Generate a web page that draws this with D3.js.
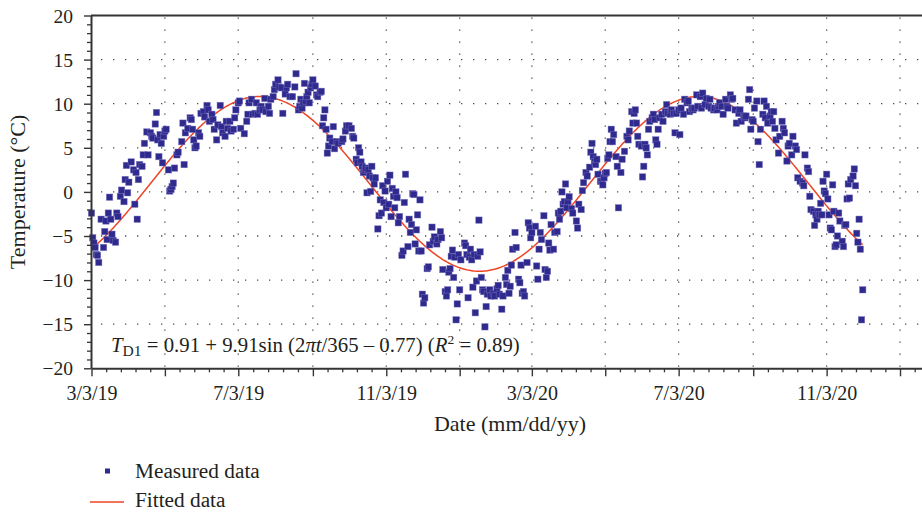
<!DOCTYPE html>
<html>
<head>
<meta charset="utf-8">
<script src="https://cdn.jsdelivr.net/npm/d3@7"></script>
<style>
  body { margin: 0; background: #fff; }
  svg { display: block; }
  svg text { font-family: "Liberation Serif", "DejaVu Serif", "Noto Serif", "Times New Roman", Times, serif; fill: #231f20; }
</style>
</head>
<body>
<svg id="chart" width="922" height="514"></svg>
<script>
// ---- data -------------------------------------------------------------
// Daily ground temperature, [day since record start, °C]
const recordStart = "2019-03-03";

const measured2019 = [
  [0,-2.4],[1,-5.2],[2,-5.8],[3,-6.3],[4,-7.1],[5,-7.2],[6,-8.0],[8,-3.1],[10,-6.3],[11,-4.5],
  [12,-3.3],[13,-5.4],[14,-2.4],[15,-0.6],[16,-3.1],[17,-4.8],[18,-5.5],[20,-5.7],[21,-2.4],[22,-2.8],
  [24,-0.5],[25,0.2],[27,-1.1],[28,1.4],[29,3.0],[30,-0.1],[31,1.1],[33,3.4],[35,2.5],[36,-1.4],
  [37,2.2],[38,-3.1],[39,1.4],[40,3.1],[42,2.9],[43,4.2],[44,5.5],[46,6.8],[47,4.2],[49,6.7],
  [50,6.3],[51,6.1],[53,7.7],[54,9.0],[55,5.9],[56,4.0],[57,6.5],[58,5.5],[59,3.3],[60,6.3],
  [61,6.9],[62,7.1],[64,2.5],[65,0.1],[66,0.3],[67,0.6],[68,1.0],[69,2.7],[71,4.2],[72,4.5],
  [75,5.7],[76,7.8],[77,3.1],[78,6.7],[80,7.2],[82,8.4],[83,8.2],[84,7.1],[85,5.9],[86,5.0],
  [87,5.2],[89,6.7],[90,6.3],[91,8.9],[93,9.1],[94,8.5],[96,9.8],[97,9.3],[98,8.0],[100,8.8],
  [101,8.2],[102,7.1],[104,5.9],[105,7.6],[107,9.8],[108,7.4],[109,6.7],[111,6.3],[112,8.0],[113,7.2],
  [115,8.0],[116,6.9],[118,7.1],[119,8.4],[120,9.3],[122,10.1],[123,10.3],[124,7.2],[127,6.6],[129,8.0],
  [130,8.8],[131,10.1],[133,10.5],[134,8.8],[136,8.9],[137,10.1],[138,8.8],[140,9.3],[141,9.7],[142,9.3],
  [144,10.6],[145,9.1],[147,9.7],[148,8.9],[149,10.5],[151,10.8],[152,11.6],[153,12.2],[155,12.7],[156,11.9],
  [158,11.8],[159,8.9],[161,11.1],[162,11.8],[163,12.2],[165,10.8],[167,10.8],[169,11.9],[170,13.4],[172,9.3],
  [173,9.7],[174,10.5],[175,9.5],[176,10.1],[177,12.3],[178,10.3],[179,10.8],[180,11.3],[181,10.1],[182,11.8],
  [183,12.2],[184,12.7],[186,12.0],[187,11.0],[188,10.8],[190,11.3],[191,11.4],[192,7.5],[193,8.4],[194,9.3],
  [195,7.1],[196,4.4],[197,5.2],[198,6.1],[200,5.7],[201,7.4],[202,4.9],[204,5.7],[205,5.5],[208,5.7],
  [209,6.0],[211,6.9],[212,7.5],[214,7.5],[216,7.2],[217,6.3],[218,6.1],[220,3.7],[221,3.3],[222,5.0],
  [223,4.5],[224,3.4],[225,2.9],[226,2.2],[227,2.5],[228,2.7],[229,-0.1],[230,2.5],[231,1.8],[232,0.05],
  [233,2.9],[234,1.6],[235,0.9],[236,1.6],[238,-4.2],[239,-2.7],[240,-0.9],[241,-2.4],[242,0.7],[243,-1.2],
  [244,0.1],[245,-1.8],[246,1.2],[247,-1.4],[248,1.9],[249,-2.8],[250,0.4],[251,-0.5],[252,-1.8],[253,0.0],
  [254,-0.65],[255,-3.5],[256,-2.8],[258,-7.2],[259,-6.7],[260,-1.2],[261,2.0],[263,-6.2],[264,-3.1],[265,-4.6],
  [266,-3.7],[267,-0.2],[268,-0.3],[269,-5.9],[270,-4.3],[271,-2.6],[272,-6.7],[273,-0.9],[274,-6.7],[275,-11.6],
  [276,-12.6],[277,-12.0],[279,-8.7],[280,-8.5],[281,-6.0],[283,-4.0],[284,-5.6],[285,-5.1],[287,-5.9],[288,-5.4],
  [290,-4.5],[291,-5.2],[292,-8.8],[294,-11.3],[295,-11.8],[296,-11.1],[297,-9.1],[298,-8.7],[299,-7.3],[300,-6.6],
  [301,-9.7],[302,-7.4],[303,-14.5]
];

const measured2020 = [
  [304,-12.7],[305,-7.1],[306,-11.1],[307,-7.7],[310,-5.8],[311,-6.1],[312,-7.1],[313,-12.0],[314,-7.4],[315,-6.5],
  [316,-7.7],[317,-10.8],[318,-7.1],[319,-13.7],[320,-10.1],[321,-7.3],[322,-3.2],[323,-6.8],[324,-9.7],[325,-11.1],
  [326,-11.3],[327,-15.3],[328,-13.0],[329,-11.6],[331,-11.1],[332,-11.8],[334,-11.5],[335,-11.8],[337,-11.0],[338,-10.6],
  [339,-11.6],[341,-13.3],[342,-11.8],[344,-9.7],[345,-10.5],[346,-8.9],[347,-11.5],[348,-10.7],[349,-8.3],[350,-6.5],
  [352,-4.6],[353,-6.3],[355,-9.9],[356,-10.3],[357,-8.3],[358,-11.5],[359,-11.3],[360,-11.8],[362,-8.0],[363,-3.5],
  [364,-4.1],[365,-5.2],[366,-4.6],[369,-3.9],[370,-8.4],[371,-9.9],[372,-6.5],[373,-4.6],[374,-5.4],[376,-2.7],
  [377,-8.8],[378,-9.7],[379,-9.0],[380,-5.8],[381,-6.6],[382,-3.7],[384,-6.5],[385,-4.6],[387,-4.5],[388,-2.4],
  [389,-3.1],[390,-2.2],[391,0.0],[392,-1.4],[393,-1.1],[394,0.9],[395,-1.8],[396,-1.1],[397,-0.55],[399,-1.9],
  [400,-2.4],[403,-3.3],[404,-4.1],[405,-1.4],[407,-2.0],[408,0.15],[409,1.05],[411,2.2],[412,1.8],[414,2.8],
  [415,4.5],[416,5.5],[417,4.0],[418,3.4],[419,3.1],[420,3.7],[421,2.0],[423,1.2],[424,1.2],[425,0.8],
  [426,1.6],[427,2.1],[428,2.2],[429,3.8],[430,4.2],[431,5.7],[432,7.1],[433,5.7],[434,6.5],[436,4.0],
  [437,2.9],[438,-1.8],[440,2.2],[441,3.7],[443,4.6],[445,6.3],[446,5.9],[447,6.9],[449,9.1],[450,7.8],
  [451,8.9],[452,9.3],[453,7.8],[454,6.3],[455,5.4],[457,5.2],[458,1.7],[459,2.9],[460,5.4],[461,5.0],
  [462,4.2],[463,7.1],[464,8.0],[466,8.4],[467,8.8],[468,8.2],[469,5.9],[470,5.4],[471,7.1],[472,8.4],
  [474,8.8],[475,8.0],[477,9.1],[478,9.9],[479,8.9],[481,8.8],[482,9.3],[484,8.9],[485,6.7],[486,8.9],
  [488,9.3],[489,6.5],[490,9.5],[492,8.8],[493,10.5],[495,10.1],[496,10.3],[497,9.1],[499,9.5],[500,9.3],
  [501,9.5],[503,11.0],[504,9.7],[506,10.8],[507,9.5],[508,11.2],[510,9.9],[511,10.6],[513,9.7],[514,10.5],
  [515,9.5],[517,9.3],[518,9.5],[520,9.3],[521,9.7],[522,10.1],[524,9.7],[525,8.8],[527,10.5],[528,9.7],
  [529,9.5],[531,11.0],[532,10.5],[533,10.6],[535,9.3],[536,7.8],[538,8.9],[539,9.3],[540,8.0],[542,8.6],
  [543,8.4],[544,8.6],[546,10.5],[547,11.6],[548,7.1],[549,8.2],[550,8.0],[551,9.5],[553,10.3],[554,5.7],
  [555,3.1],[556,7.1],[558,8.8],[559,10.3],[560,8.4],[561,9.7],[562,7.8],[564,8.6],[565,9.1],[566,8.0],
  [567,9.1],[568,7.2],[569,5.9],[571,4.4],[572,6.3],[574,8.0],[575,7.2],[576,6.7],[578,3.5],[579,5.2],
  [580,5.5],[582,4.2],[583,6.3],[585,5.2],[586,4.8],[587,1.6],[589,1.2],[591,1.0],[592,0.7],[593,4.2],
  [595,2.7],[596,2.3],[597,-0.5],[598,-2.0],[600,-2.2],[601,-3.8],[602,-2.6],[603,-3.1],[604,-2.2],[605,-2.6],
  [606,-1.3],[607,-2.6],[608,1.2],[609,0.1],[610,-0.2],[611,2.0],[612,-0.8],[613,-2.6],[614,-4.1],[615,-4.3],
  [616,0.8],[617,-2.2],[618,-6.2],[619,-6.0],[620,-5.0],[621,-2.4],[622,-3.3],[624,-5.6],[625,-6.2],[626,-3.8],
  [627,-3.7],[628,-0.8],[629,0.9],[630,-0.7],[631,1.4],[633,1.8],[634,2.6],[635,0.7],[636,-4.7],[637,-5.7],
  [638,-3.1],[639,-6.5],[640,-14.5],[641,-11.1]
];

// Sinusoidal fit T = mean + amp·sin(2πt/period − phase), t in days from fitOrigin
const fitMean = 0.91, fitAmp = 9.91, fitPeriod = 365, fitPhase = 0.77, fitR2 = 0.89;
const fitOrigin = "2019-03-07";
const fitDayRange = [0, 641];

const xDomain = ["2019-03-03", "2021-03-03"];
const majorTickDates = ["2019-03-03","2019-05-03","2019-07-03","2019-09-03","2019-11-03","2020-01-03",
                        "2020-03-03","2020-05-03","2020-07-03","2020-09-03","2020-11-03","2021-01-03"];
const majorTickLabels = ["3/3/19","","7/3/19","","11/3/19","","3/3/20","","7/3/20","","11/3/20",""];
const yMajorTicks = [-20,-15,-10,-5,0,5,10,15,20];
const yGridValues = [-15,-10,-5,0,5,10,15];

// ---- layout -----------------------------------------------------------
const W = 922, H = 514;
const FONT = '"Liberation Serif", "DejaVu Serif", "Noto Serif", "Times New Roman", Times, serif';
const plot = { left: 91, top: 15.5, bottom: 368.3, right: 971 };
const svg = d3.select("#chart").attr("font-family", FONT);

const parse = d3.utcParse("%Y-%m-%d");
const DAY = 864e5;
const t0 = parse(recordStart).getTime();
const dayToDate = d => new Date(t0 + d * DAY);

const x = d3.scaleUtc().domain(xDomain.map(parse)).range([plot.left + 0.5, plot.right]);
const y = d3.scaleLinear().domain([-20, 20]).range([plot.bottom, plot.top]);

const axisColor = "#353535";
const majorDates = majorTickDates.map(parse);
const minorDates = [];
for (let i = 0; i < majorDates.length; i++) {
  const a = majorDates[i].getTime();
  const b = i + 1 < majorDates.length ? majorDates[i + 1].getTime() : a + (a - majorDates[i - 1].getTime());
  for (let k = 1; k < 5; k++) minorDates.push(new Date(a + (b - a) * k / 5));
}

// ---- grid -------------------------------------------------------------
const grid = svg.append("g").attr("stroke", "#4a4a4a").attr("stroke-width", 1.3)
  .attr("stroke-dasharray", "1.3 10.7").attr("fill", "none");
grid.selectAll("line.h").data(yGridValues).join("line").attr("class", "h")
  .attr("x1", plot.left + 10).attr("x2", W).attr("y1", d => y(d)).attr("y2", d => y(d));
grid.selectAll("line.v").data(majorDates.slice(1)).join("line").attr("class", "v")
  .attr("x1", d => x(d)).attr("x2", d => x(d)).attr("y1", plot.top + 2).attr("y2", plot.bottom);

// ---- fitted curve ------------------------------------------------------
const fitT0 = parse(fitOrigin).getTime();
const fitValue = date => fitMean + fitAmp * Math.sin(2 * Math.PI * ((date.getTime() - fitT0) / DAY) / fitPeriod - fitPhase);
const fitDates = d3.range(fitDayRange[0], fitDayRange[1] + 1).map(dayToDate);

svg.append("path").datum(fitDates)
  .attr("fill", "none").attr("stroke", "#ee4526").attr("stroke-width", 1.5)
  .attr("d", d3.line().x(d => x(d)).y(d => y(fitValue(d))));

// ---- measured points ---------------------------------------------------
const measured = measured2019.concat(measured2020);
const sq = 6.4;
svg.append("g").selectAll("rect").data(measured).join("rect")
  .attr("x", d => x(dayToDate(d[0])) - sq / 2)
  .attr("y", d => y(d[1]) - sq / 2)
  .attr("width", sq).attr("height", sq)
  .attr("fill", "#2f2a8d").attr("stroke", "#7a74c0").attr("stroke-width", 0.6).attr("stroke-opacity", 0.7);

// ---- axes -------------------------------------------------------------
function styleAxis(g) {
  g.attr("font-family", FONT);
  g.select(".domain").attr("stroke", axisColor).attr("stroke-width", 2);
  g.selectAll(".tick line").attr("stroke", axisColor).attr("stroke-width", 1.4);
  g.selectAll(".tick text").attr("font-family", FONT).attr("fill", "#231f20");
}

// bottom: minor ticks then labelled major ticks
svg.append("g").attr("transform", `translate(0,${plot.bottom})`)
  .call(d3.axisBottom(x).tickValues(minorDates).tickSize(4).tickFormat("").tickSizeOuter(0))
  .call(g => { g.select(".domain").remove(); g.selectAll(".tick line").attr("stroke", axisColor).attr("stroke-width", 1.3); });

svg.append("g").attr("transform", `translate(0,${plot.bottom})`)
  .call(d3.axisBottom(x).tickValues(majorDates).tickSize(8).tickPadding(10).tickSizeOuter(0)
    .tickFormat((d, i) => majorTickLabels[i]))
  .call(styleAxis)
  .call(g => g.selectAll(".tick text").attr("font-size", 20));

// left: minor ticks every 1 °C, major every 5 °C
svg.append("g").attr("transform", `translate(${plot.left},0)`)
  .call(d3.axisLeft(y).tickValues(d3.range(-20, 21, 1).filter(v => v % 5 !== 0)).tickSize(4).tickFormat("").tickSizeOuter(0))
  .call(g => { g.select(".domain").remove(); g.selectAll(".tick line").attr("stroke", axisColor).attr("stroke-width", 1.3); });

svg.append("g").attr("transform", `translate(${plot.left},0)`)
  .call(d3.axisLeft(y).tickValues(yMajorTicks).tickSize(7).tickPadding(11).tickSizeOuter(0))
  .call(styleAxis)
  .call(g => g.selectAll(".tick text").attr("font-size", 19.5).attr("dy", "0.34em"));

// top frame line
svg.append("line").attr("x1", plot.left).attr("x2", W).attr("y1", plot.top).attr("y2", plot.top)
  .attr("stroke", axisColor).attr("stroke-width", 2);

// ---- titles -----------------------------------------------------------
svg.append("text").attr("x", 510).attr("y", 431).attr("text-anchor", "middle")
  .attr("font-family", FONT).attr("font-size", 22).text("Date (mm/dd/yy)");

svg.append("text").attr("transform", `translate(25,${(plot.top + plot.bottom) / 2}) rotate(-90)`)
  .attr("text-anchor", "middle").attr("font-family", FONT).attr("font-size", 22).text("Temperature (°C)");

// fit equation
const eq = svg.append("text").attr("x", 111).attr("y", 351.7).attr("font-family", FONT).attr("font-size", 20.8);
eq.append("tspan").attr("font-style", "italic").text("T");
eq.append("tspan").attr("font-size", 15.5).attr("dy", 4.5).text("D1");
eq.append("tspan").attr("dy", -4.5).text(` = ${fitMean} + ${fitAmp}sin (2`);
eq.append("tspan").attr("font-style", "italic").text("πt");
eq.append("tspan").text(`/${fitPeriod} – ${fitPhase}) (`);
eq.append("tspan").attr("font-style", "italic").text("R");
eq.append("tspan").attr("font-size", 13.5).attr("dy", -8).text("2");
eq.append("tspan").attr("dy", 8).text(` = ${fitR2})`);

// ---- legend -----------------------------------------------------------
svg.append("rect").attr("x", 105).attr("y", 468.5).attr("width", 5).attr("height", 5).attr("fill", "#2f2a8d");
svg.append("text").attr("x", 135).attr("y", 478).attr("font-family", FONT).attr("font-size", 21.3).text("Measured data");
svg.append("line").attr("x1", 90).attr("x2", 124).attr("y1", 502).attr("y2", 502)
  .attr("stroke", "#ee4526").attr("stroke-width", 1.5);
svg.append("text").attr("x", 135).attr("y", 507).attr("font-family", FONT).attr("font-size", 21.3).text("Fitted data");
</script>
</body>
</html>
